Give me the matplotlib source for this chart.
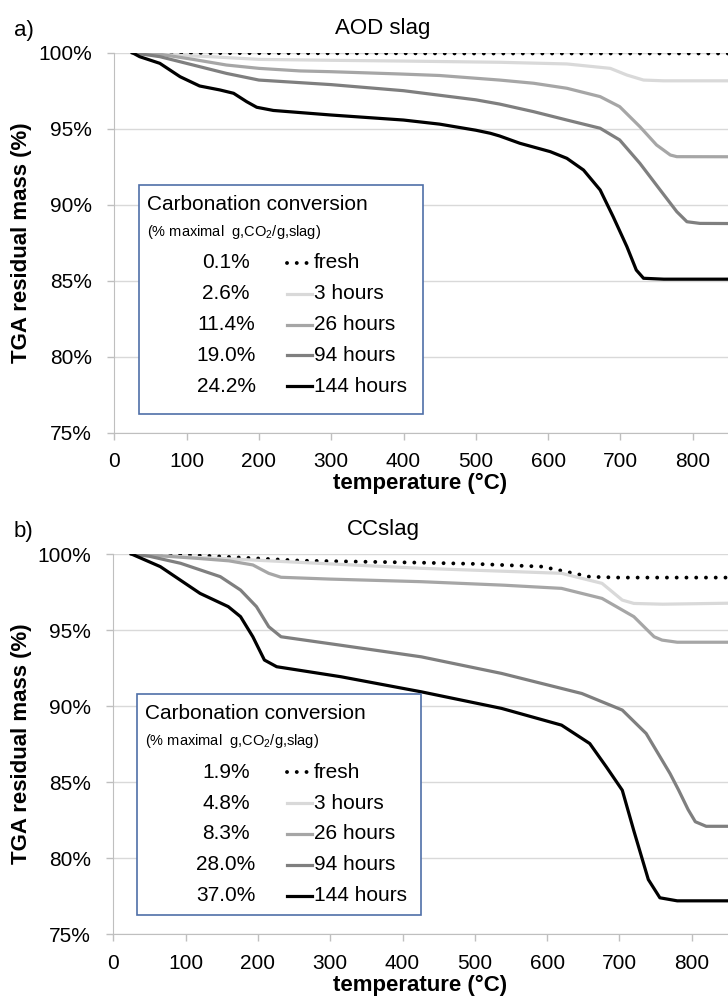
import matplotlib.pyplot as plt
from matplotlib.ticker import PercentFormatter
from matplotlib.lines import Line2D
from matplotlib.patches import Rectangle

plt.rcParams['font.family'] = ['Liberation Sans', 'DejaVu Sans']
plt.rcParams['mathtext.fontset'] = 'custom'
plt.rcParams['mathtext.rm'] = 'Liberation Sans'

# ---- data: a) AOD slag (temperature in degC, residual mass in %) ----
aod_fresh_t = [25, 100, 200, 300, 400, 500, 600, 700, 800, 900]
aod_fresh_m = [100, 99.98, 99.97, 99.96, 99.96, 99.95, 99.95, 99.95, 99.95, 99.95]
aod_3h_t = [25, 60, 100, 132, 200, 300, 400, 533, 626, 686, 709, 732, 760, 900]
aod_3h_m = [100, 99.9, 99.8, 99.74, 99.56, 99.5, 99.45, 99.37, 99.26, 98.97, 98.53, 98.2, 98.15, 98.15]
aod_26h_t = [25, 63, 109, 155, 200, 257, 300, 395, 450, 533, 580, 626, 672, 699, 727, 750, 769, 778, 900]
aod_26h_m = [100, 99.9, 99.56, 99.19, 98.97, 98.8, 98.75, 98.6, 98.5, 98.2, 97.99, 97.66, 97.11, 96.45,
             95.13, 93.93, 93.27, 93.16, 93.15]
aod_94h_t = [25, 63, 109, 155, 200, 300, 400, 450, 500, 533, 580, 626, 672, 699, 727, 755, 778, 792, 810, 900]
aod_94h_m = [100, 99.74, 99.19, 98.64, 98.2, 97.9, 97.5, 97.2, 96.9, 96.62, 96.12, 95.57, 95.03, 94.26,
             92.72, 90.97, 89.54, 88.88, 88.77, 88.75]
aod_144h_t = [25, 35, 63, 91, 118, 146, 165, 183, 197, 220, 300, 400, 450, 500, 520, 533, 561, 603, 626,
              649, 672, 690, 709, 722, 732, 760, 900]
aod_144h_m = [100, 99.74, 99.3, 98.42, 97.81, 97.55, 97.33, 96.78, 96.41, 96.2, 95.9, 95.57, 95.3, 94.9,
              94.7, 94.52, 94.04, 93.49, 93.05, 92.28, 90.97, 89.21, 87.24, 85.7, 85.16, 85.1, 85.1]

# ---- data: b) CC slag ----
cc_fresh_t = [25, 109, 259, 426, 500, 593, 637, 659, 700, 900]
cc_fresh_m = [100, 99.93, 99.56, 99.43, 99.35, 99.17, 98.73, 98.5, 98.45, 98.45]
cc_3h_t = [25, 80, 148, 300, 426, 620, 676, 704, 720, 760, 900]
cc_3h_m = [100, 99.85, 99.71, 99.35, 99.06, 98.73, 98.07, 96.97, 96.75, 96.7, 96.8]
cc_26h_t = [25, 60, 120, 160, 193, 215, 232, 300, 426, 540, 620, 676, 720, 748, 759, 780, 900]
cc_26h_m = [100, 99.9, 99.7, 99.55, 99.28, 98.73, 98.47, 98.35, 98.18, 97.95, 97.74, 97.08, 95.88, 94.56,
            94.34, 94.2, 94.2]
cc_94h_t = [25, 50, 93, 148, 176, 198, 215, 232, 315, 426, 537, 648, 704, 737, 770, 782, 795, 805, 820, 900]
cc_94h_m = [100, 99.85, 99.39, 98.51, 97.63, 96.54, 95.22, 94.56, 94.0, 93.24, 92.15, 90.83, 89.74, 88.2,
            85.57, 84.47, 83.2, 82.4, 82.1, 82.1]
cc_144h_t = [25, 65, 120, 159, 176, 193, 209, 226, 315, 426, 537, 620, 659, 682, 704, 720, 740, 756, 780, 900]
cc_144h_m = [100, 99.17, 97.41, 96.54, 95.88, 94.56, 93.03, 92.59, 91.93, 90.94, 89.85, 88.75, 87.54, 86.0,
             84.47, 81.8, 78.6, 77.4, 77.2, 77.2]

series_names = ['fresh', '3 hours', '26 hours', '94 hours', '144 hours']
aod_conversion = ['0.1%', '2.6%', '11.4%', '19.0%', '24.2%']
cc_conversion = ['1.9%', '4.8%', '8.3%', '28.0%', '37.0%']

colors = ['black', '#d9d9d9', '#a6a6a6', '#7f7f7f', 'black']
W, H = 728, 996


def fx(px):
    return px / W


def fy(py):
    return 1 - py / H


def style(i):
    if i == 0:
        return dict(color='black', lw=2.8, linestyle=(0, (0.01, 2.5)), dash_capstyle='round')
    return dict(color=colors[i], lw=2.3, solid_joinstyle='round')


def panel(ax, curves, title, letter, ytop, ybot):
    for i, (t, m) in enumerate(curves):
        ax.plot(t, m, **style(i))
    ax.set_xlim(0, 900)
    ax.set_ylim(75, 100)
    ax.set_xticks(range(0, 801, 100))
    ax.set_yticks(range(75, 101, 5))
    ax.yaxis.set_major_formatter(PercentFormatter(100, decimals=0))
    ax.yaxis.grid(True, color='#d9d9d9', lw=1)
    ax.set_axisbelow(True)
    for s in ['top', 'right']:
        ax.spines[s].set_visible(False)
    for s in ['left', 'bottom']:
        ax.spines[s].set_color('#bfbfbf')
    ax.tick_params(axis='both', colors='#bfbfbf', labelcolor='black', labelsize=15, length=5, width=1)
    ax.tick_params(axis='y', pad=11)
    ax.tick_params(axis='x', pad=9)
    # axis titles
    fig.text(fx(420), fy(ybot + 51), 'temperature (°C)', fontsize=16, fontweight='bold',
             ha='center', va='center')
    fig.text(fx(22), fy((ytop + ybot) / 2), 'TGA residual mass (%)', fontsize=16, fontweight='bold',
             ha='center', va='center', rotation=90)
    fig.text(fx(383), fy(ytop - 24), title, fontsize=16, ha='center', va='center')
    fig.text(fx(14), fy(ytop - 22), letter, fontsize=16, ha='left', va='center')


def legend_box(box, labels):
    x0, y0, x1, y1 = box
    fig.patches.append(Rectangle((fx(x0), fy(y1)), fx(x1 - x0), (y1 - y0) / H, transform=fig.transFigure,
                                 facecolor='white', edgecolor='#4f6fa8', lw=1.2, zorder=2))
    fig.text(fx(x0 + 8), fy(y0 + 19), 'Carbonation conversion', fontsize=15, va='center', zorder=3)
    fig.text(fx(x0 + 8), fy(y0 + 47), r'(% maximal  g,CO$_\mathregular{2}$/g,slag)', fontsize=10.5,
             va='center', zorder=3)
    for i, lab in enumerate(labels):
        yy = y0 + 78 + i * 30.8
        fig.text(fx(226), fy(yy), lab, fontsize=15, ha='center', va='center', zorder=3)
        fig.add_artist(Line2D([fx(287), fx(312)], [fy(yy), fy(yy)], transform=fig.transFigure,
                              zorder=3, **style(i)))
        fig.text(fx(314), fy(yy), series_names[i], fontsize=15, ha='left', va='center', zorder=3)


fig = plt.figure(figsize=(W / 100, H / 100), dpi=100)

ax_a = fig.add_axes([fx(114.3), fy(432.7), fx(900 * 0.723), (432.7 - 52.7) / H])
panel(ax_a, [(aod_fresh_t, aod_fresh_m), (aod_3h_t, aod_3h_m), (aod_26h_t, aod_26h_m),
             (aod_94h_t, aod_94h_m), (aod_144h_t, aod_144h_m)], 'AOD slag', 'a)', 52.7, 432.7)
legend_box((139.3, 185, 422.7, 414), aod_conversion)

ax_b = fig.add_axes([fx(113.3), fy(934.3), fx(900 * 0.723), (934.3 - 554) / H])
panel(ax_b, [(cc_fresh_t, cc_fresh_m), (cc_3h_t, cc_3h_m), (cc_26h_t, cc_26h_m),
             (cc_94h_t, cc_94h_m), (cc_144h_t, cc_144h_m)], 'CCslag', 'b)', 554, 934.3)
legend_box((137.3, 694.3, 420.7, 915.3), cc_conversion)

fig.savefig('out.png', dpi=100)
